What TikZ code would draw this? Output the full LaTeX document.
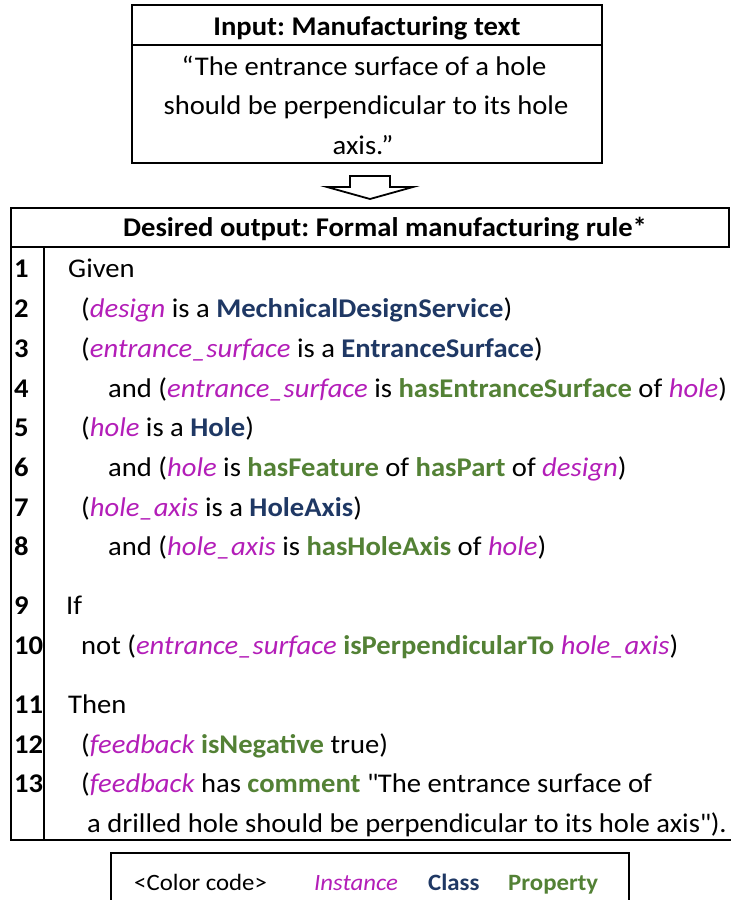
\documentclass[tikz,border=0pt]{standalone}
\usepackage{fontspec}
\setmainfont{Carlito}[FakeStretch=1.06]
\usepackage{xcolor}
\usepackage{tikz}
\usetikzlibrary{positioning}
\frenchspacing
\definecolor{instcol}{HTML}{B31EB8}
\definecolor{classcol}{HTML}{1F3864}
\definecolor{propcol}{HTML}{538135}
\newcommand{\inst}[1]{{\color{instcol}\itshape #1}}
\newcommand{\clss}[1]{{\color{classcol}\bfseries #1}}
\newcommand{\prp}[1]{{\color{propcol}\bfseries #1}}
\newcommand{\bodyfont}{\fontsize{13.5}{20}\selectfont}

\begin{document}
\begin{tikzpicture}[x=0.5pt, y=-0.5pt, line width=1.2pt,
    font=\bodyfont,
    code/.style={anchor=base west, inner sep=0pt},
    intext/.style={anchor=base, inner sep=0pt},
    num/.style={anchor=base west, inner sep=0pt, font=\bodyfont\bfseries},
    title/.style={anchor=base, inner sep=0pt, font=\bodyfont\bfseries},
    legend/.style={anchor=base west, inner sep=0pt, font=\fontsize{11.7}{16}\selectfont}]
    \useasboundingbox (0,0) rectangle (730,900);

    % input box
    \draw (132,5) rectangle (602,163);
    \draw (132,45) -- (602,45);
    \node[title] (intitle) at (367,35) {Input: Manufacturing text};
    \node[intext] (in1) at (364,75) {“The entrance surface of a hole};
    \node[intext] (in2) at (366,114) {should be perpendicular to its hole};
    \node[intext] (in3) at (363,154) {axis.”};

    % arrow
    \coordinate (atop) at (370,176);
    \draw[line width=0.9pt] (atop) ++(-20,0) -- ++(40,0) -- ++(0,11) -- ++(23,0)
        -- ++(-43,12) -- ++(-43,-12) -- ++(23,0) -- cycle;

    % output table
    \draw (11,208) rectangle (729,247);
    \node[title] (outtitle) at (385,236) {Desired output: Formal manufacturing rule*};
    \draw (11,247) -- (11,840) -- (735,840);
    \draw (44,247) -- (44,840);

    \foreach \n/\y in {1/277,2/317,3/357,4/397,5/436,6/476,7/516,8/555,
                       9/614,10/654,11/713,12/753,13/792}
        \node[num] (n\n) at (13,\y) {\n};

    \node[code] (c1) at (67,277) {Given};
    \node[code] (c2) at (80,317) {(\inst{design} is a \clss{MechnicalDesignService})};
    \node[code] (c3) at (80,357) {(\inst{entrance\_surface} is a \clss{EntranceSurface})};
    \node[code] (c4) at (107,397) {and (\inst{entrance\_surface} is \prp{hasEntranceSurface} of \inst{hole})};
    \node[code] (c5) at (80,436) {(\inst{hole} is a \clss{Hole})};
    \node[code] (c6) at (107,476) {and (\inst{hole} is \prp{hasFeature} of \prp{hasPart} of \inst{design})};
    \node[code] (c7) at (80,516) {(\inst{hole\_axis} is a \clss{HoleAxis})};
    \node[code] (c8) at (107,555) {and (\inst{hole\_axis} is \prp{hasHoleAxis} of \inst{hole})};
    \node[code] (c9) at (65,614) {If};
    \node[code] (c10) at (80,654) {not (\inst{entrance\_surface} \prp{isPerpendicularTo} \inst{hole\_axis})};
    \node[code] (c11) at (67,713) {Then};
    \node[code] (c12) at (80,753) {(\inst{feedback} \prp{isNegative} true)};
    \node[code] (c13) at (80,792) {(\inst{feedback} has \prp{comment} \textquotedbl The entrance surface of};
    \node[code] (c13b) at (86,832) {a drilled hole should be perpendicular to its hole axis\textquotedbl).};

    % color code
    \draw (111,910) -- (111,853) -- (629,853) -- (629,910);
    \node[legend] (ccode) at (133,890) {<Color code>};
    \node[legend] (cinst) at (313,890) {\inst{Instance}};
    \node[legend] (cclass) at (427,890) {\clss{Class}};
    \node[legend] (cprop) at (507,890) {\prp{Property}};
\end{tikzpicture}
\end{document}
